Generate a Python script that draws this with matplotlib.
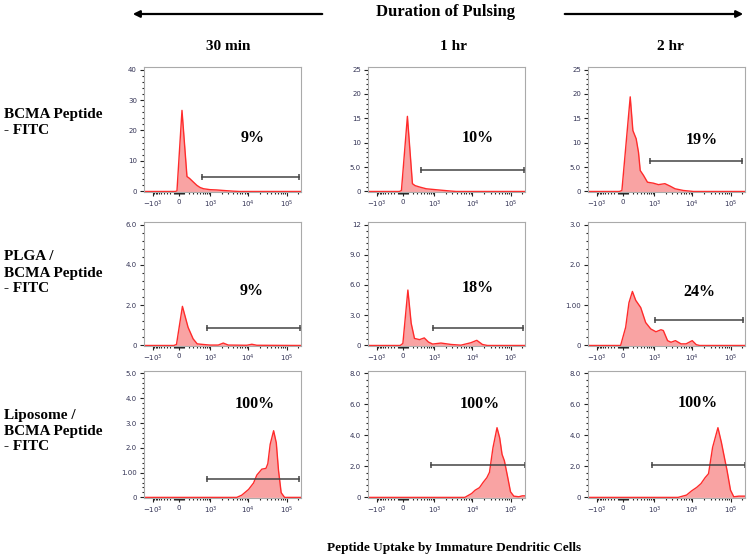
import numpy as np
import matplotlib.pyplot as plt
from matplotlib.patches import FancyArrowPatch
from matplotlib.ticker import AutoMinorLocator

plt.rcParams['font.family'] = 'DejaVu Sans'
SERIF = 'Liberation Serif'

row_labels = ['BCMA Peptide\n- FITC', 'PLGA /\nBCMA Peptide\n- FITC', 'Liposome /\nBCMA Peptide\n- FITC']
col_labels = ['30 min', '1 hr', '2 hr']

# FITC intensity (x) vs. count (y)
bcma_30_x = [-1995, -71, -35, 63, 159, 213, 312, 403, 508, 639, 966, 1470, 2680, 3990, 5940, 235900]
bcma_30_y = [0, 0, 0.2, 26.6, 4.9, 4.3, 3.0, 2.0, 1.3, 0.9, 0.6, 0.5, 0.25, 0.1, 0, 0]
bcma_1h_x = [-1995, -71, -25, 89, 189, 248, 371, 589, 1131, 2550, 3760, 235900]
bcma_1h_y = [0, 0, 0.2, 15.4, 1.6, 1.2, 0.9, 0.55, 0.35, 0.1, 0, 0]
bcma_2h_x = [-1995, -71, -14, 144, 199, 275, 335, 383, 487, 639, 938, 1285, 1905, 2607, 3530, 5830, 10680, 235900]
bcma_2h_y = [0, 0, 0.2, 19.4, 12.5, 10.8, 8.0, 4.3, 3.3, 1.9, 1.7, 1.4, 1.6, 1.1, 0.55, 0.2, 0, 0]

plga_30_x = [-1995, -108, -46, 71, 182, 298, 412, 626, 966, 1620, 2199, 2977, 9090, 12300, 16620, 235900]
plga_30_y = [0, 0, 0.05, 1.94, 0.9, 0.33, 0.08, 0.05, 0.02, 0.02, 0.12, 0.02, 0.01, 0.06, 0.01, 0]
plga_1h_x = [-1995, -53, 6, 98, 163, 234, 362, 513, 680, 890, 1497, 2760, 5010, 9090, 13000, 18270, 24690, 235900]
plga_1h_y = [0, 0, 0.2, 5.5, 2.2, 0.7, 0.58, 0.75, 0.34, 0.14, 0.24, 0.1, 0.03, 0.27, 0.51, 0.1, 0, 0]
plga_2h_x = [-1995, -43, 57, 119, 189, 264, 398, 565, 792, 1098, 1497, 1732, 2241, 2760, 3600, 5060, 6840, 9900, 12640, 15410, 235900]
plga_2h_y = [0, 0, 0.45, 1.06, 1.34, 1.12, 0.94, 0.57, 0.41, 0.34, 0.39, 0.37, 0.12, 0.08, 0.12, 0.04, 0.04, 0.12, 0.02, 0, 0]

lipo_30_x = [-1995, 4970, 6720, 10090, 13620, 16620, 22480, 28730, 32160, 37050, 45570, 53500, 61040, 71700, 88200, 235900]
lipo_30_y = [0, 0, 0.09, 0.32, 0.58, 0.9, 1.14, 1.17, 1.36, 2.14, 2.69, 2.2, 1.1, 0.19, 0, 0]
lipo_1h_x = [-1995, 6345, 9530, 11720, 15270, 19330, 23780, 27910, 34360, 43880, 51530, 59350, 68400, 83380, 98800, 120400, 162800, 200300, 235900]
lipo_1h_y = [0, 0, 0.25, 0.46, 0.63, 0.99, 1.27, 1.62, 3.2, 4.5, 3.84, 2.78, 2.36, 1.3, 0.36, 0.08, 0.04, 0.1, 0.1]
lipo_2h_x = [-1995, 4230, 7040, 9530, 12890, 16770, 21440, 26390, 33710, 46450, 57160, 69720, 80300, 98800, 120400, 162800, 235900]
lipo_2h_y = [0, 0, 0.15, 0.42, 0.64, 0.89, 1.27, 1.53, 3.23, 4.5, 3.55, 2.48, 1.74, 0.47, 0.04, 0.08, 0.08]

# gate: low edge, high edge, drawn height
gate_lo = [[565, 416, 731], [816, 890, 1047], [825, 808, 866]]
gate_hi = [[214000, 225000, 200000], [225000, 214000, 214000], [214000, 235900, 235900]]
gate_y = [[4.9, 4.5, 6.2], [0.89, 1.7, 0.64], [0.74, 2.11, 2.1]]
pct_labels = [['9%', '10%', '19%'], ['9%', '18%', '24%'], ['100%', '100%', '100%']]

y_max = [[40, 25, 25], [6.0, 12, 3.0], [5.0, 8.0, 8.0]]
y_ticks = [[[0, 10, 20, 30, 40], [0, 5, 10, 15, 20, 25], [0, 5, 10, 15, 20, 25]],
           [[0, 2, 4, 6], [0, 3, 6, 9, 12], [0, 1, 2, 3]],
           [[0, 1, 2, 3, 4, 5], [0, 2, 4, 6, 8], [0, 2, 4, 6, 8]]]
y_ticklabels = [[['0', '10', '20', '30', '40'], ['0', '5.0', '10', '15', '20', '25'], ['0', '5.0', '10', '15', '20', '25']],
                [['0', '2.0', '4.0', '6.0'], ['0', '3.0', '6.0', '9.0', '12'], ['0', '1.00', '2.0', '3.0']],
                [['0', '1.00', '2.0', '3.0', '4.0', '5.0'], ['0', '2.0', '4.0', '6.0', '8.0'], ['0', '2.0', '4.0', '6.0', '8.0']]]

x_ticks = [-1000, 0, 1000, 1e4, 1e5]
x_ticklabels = ['$-10^3$', '0', '$10^3$', '$10^4$', '$10^5$']

curves = [[(bcma_30_x, bcma_30_y), (bcma_1h_x, bcma_1h_y), (bcma_2h_x, bcma_2h_y)],
          [(plga_30_x, plga_30_y), (plga_1h_x, plga_1h_y), (plga_2h_x, plga_2h_y)],
          [(lipo_30_x, lipo_30_y), (lipo_1h_x, lipo_1h_y), (lipo_2h_x, lipo_2h_y)]]

# where the % label sits, in axes fraction
pct_pos = [[(0.695, 0.435), (0.70, 0.43), (0.725, 0.42)],
           [(0.687, 0.445), (0.70, 0.47), (0.707, 0.433)],
           [(0.704, 0.74), (0.71, 0.744), (0.699, 0.75)]]


def fwd(x):
    x = np.asarray(x, float)
    return np.where(x >= 0, np.arcsinh(x / 300), 0.8 * np.arcsinh(x / 300))


def inv(y):
    y = np.asarray(y, float)
    return np.where(y >= 0, 300 * np.sinh(y), 300 * np.sinh(y / 0.8))


minor_x = (list(range(-900, -100, 100)) + list(range(-100, 101, 20)) + list(range(200, 1000, 100))
           + [k * 1e3 for k in range(2, 10)] + [k * 1e4 for k in range(2, 10)] + [2e5])

fig = plt.figure(figsize=(7.5, 5.6), dpi=100)

col_left = [0.192, 0.4907, 0.784]
ax_w = 0.2093
row_bottom = [0.657, 0.382, 0.1107]
row_h = [0.2232, 0.2214, 0.2268]

for r in range(3):
    for c in range(3):
        ax = fig.add_axes([col_left[c], row_bottom[r], ax_w, row_h[r]])
        ax.set_xscale('function', functions=(fwd, inv))
        xs, ys = curves[r][c]
        ax.fill_between(xs, ys, color='#f9a3a3', lw=0)
        ax.plot(xs, ys, color='#ff2b2b', lw=1.0)
        gy = gate_y[r][c]
        ax.plot([gate_lo[r][c], gate_hi[r][c]], [gy, gy], color='#444444', lw=1.1)
        ax.plot([gate_lo[r][c], gate_hi[r][c]], [gy, gy], ls='none', marker='|', ms=5,
                mew=1.1, color='#444444', clip_on=False)
        px, py = pct_pos[r][c]
        ax.text(px, py, pct_labels[r][c], transform=ax.transAxes, ha='center', va='center',
                fontsize=11.5, fontweight='bold', family=SERIF)

        ym = y_max[r][c]
        ax.set_xlim(-1995, 235900)
        ax.set_ylim(-0.005 * ym, 1.02 * ym)
        ax.set_xticks(x_ticks)
        ax.set_xticklabels(x_ticklabels)
        ax.set_xticks(minor_x, minor=True)
        ax.set_yticks(y_ticks[r][c])
        ax.set_yticklabels(y_ticklabels[r][c])
        ax.yaxis.set_minor_locator(AutoMinorLocator(5))
        ax.tick_params(which='both', direction='out', color='#222222', width=0.8,
                       labelsize=5, labelcolor='#333355', pad=2)
        ax.tick_params(which='major', length=3)
        ax.tick_params(which='minor', length=1.6)
        for s in ax.spines.values():
            s.set_color('#aaaaaa')
            s.set_linewidth(0.8)

# header with arrows
fig.text(445 / 750, 1 - 12.5 / 560, 'Duration of Pulsing', ha='center', va='center',
         fontsize=12, fontweight='bold', family=SERIF)
for x0, x1 in [(325, 130), (562, 746)]:
    arr = FancyArrowPatch((x0 / 750, 1 - 14 / 560), (x1 / 750, 1 - 14 / 560),
                          transform=fig.transFigure, arrowstyle='-|>,head_length=4,head_width=2',
                          lw=1.6, color='black', mutation_scale=1)
    fig.add_artist(arr)

col_x = [228, 454, 670]
for c in range(3):
    fig.text(col_x[c] / 750, 1 - 47 / 560, col_labels[c], ha='center', va='center',
             fontsize=11, fontweight='bold', family=SERIF)

row_y = [122.5, 273, 431]
for r in range(3):
    fig.text(4 / 750, 1 - row_y[r] / 560, row_labels[r], ha='left', va='center',
             fontsize=11, fontweight='bold', family=SERIF, linespacing=1.3)

fig.text(454 / 750, 1 - 548 / 560, 'Peptide Uptake by Immature Dendritic Cells', ha='center',
         va='center', fontsize=9.5, fontweight='bold', family=SERIF)

fig.savefig('out.png', dpi=100, facecolor='white')
